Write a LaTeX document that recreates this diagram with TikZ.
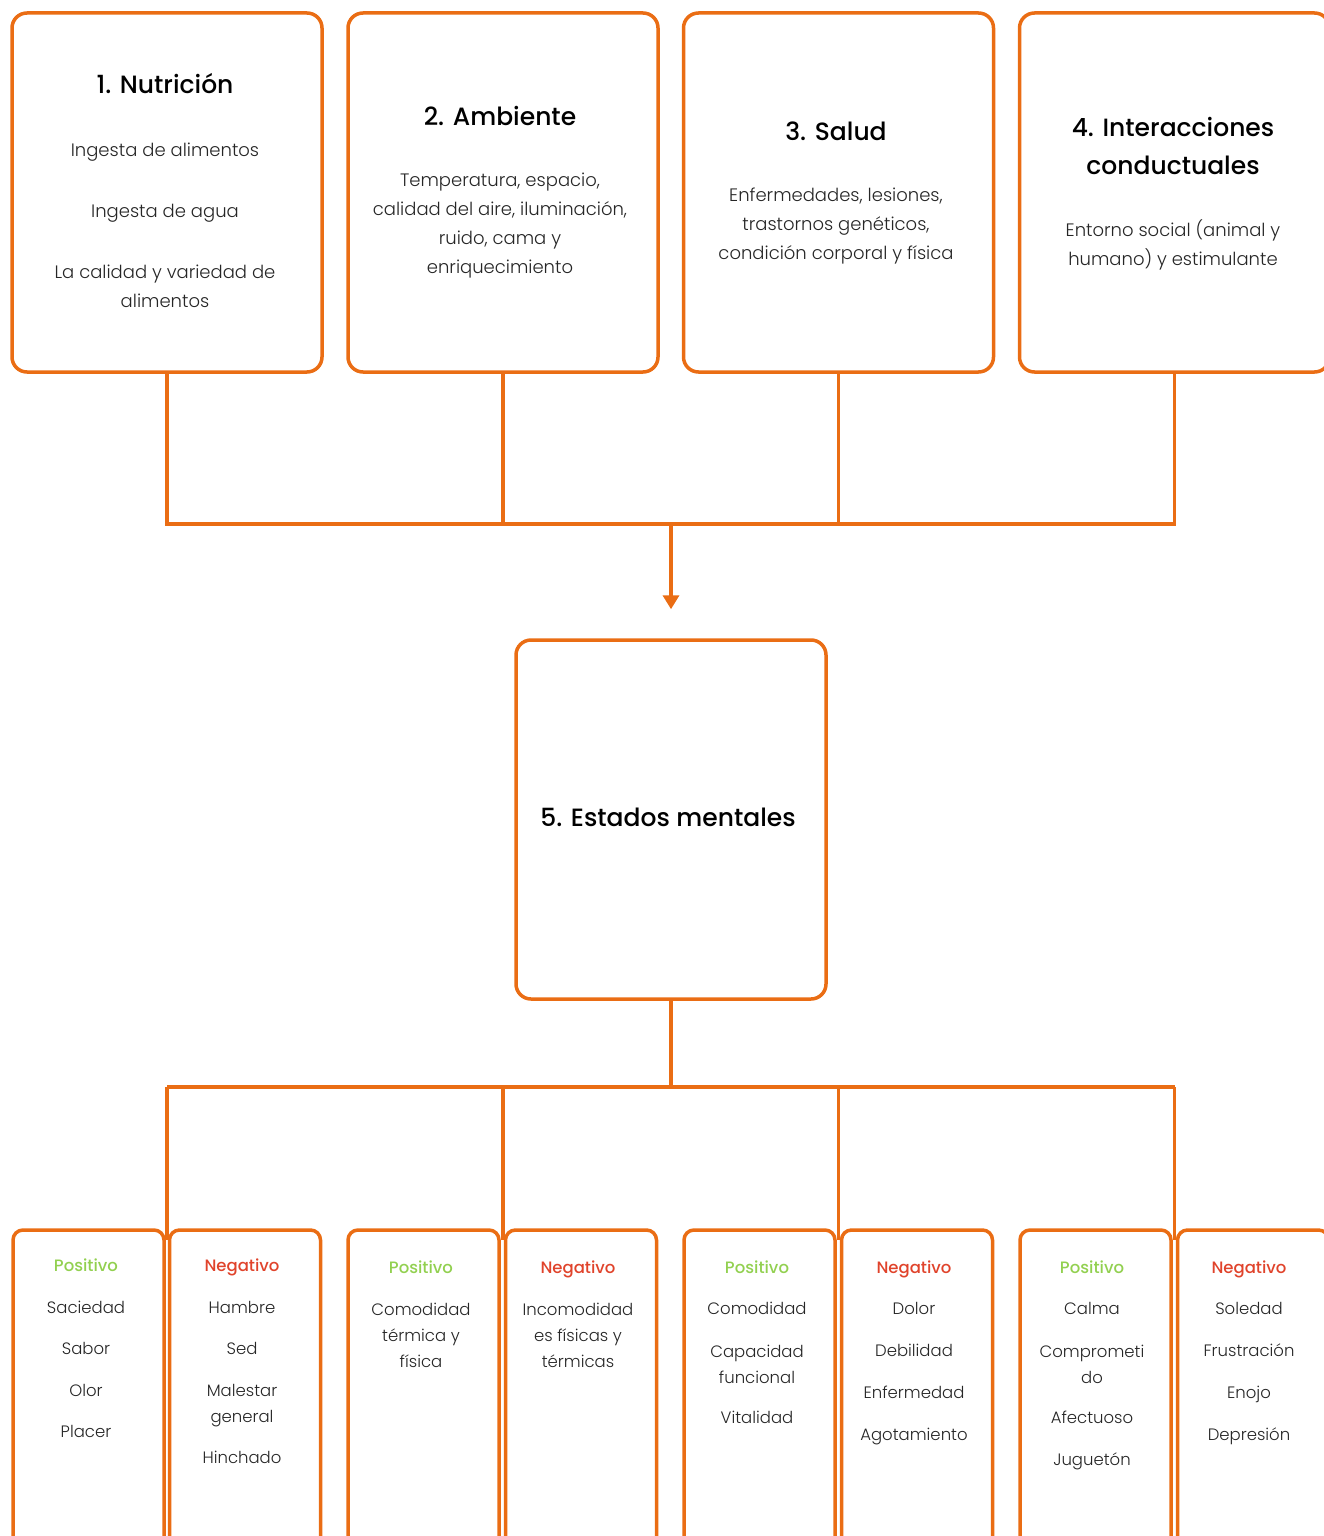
\documentclass[tikz,border=0pt]{standalone}
\usepackage{fontspec}
\setmainfont{Poppins}[UprightFont=*-Light, BoldFont=*-Medium]
\usetikzlibrary{arrows.meta}
\definecolor{naranja}{HTML}{EA6D14}
\definecolor{verde}{HTML}{92D050}
\definecolor{rojo}{HTML}{E0432B}
\definecolor{texto}{HTML}{262626}

\tikzset{
  caja/.style={draw=naranja, line width=3.5pt, rounded corners=15pt,
    minimum width=310pt, minimum height=359pt},
  cajita/.style={draw=naranja, line width=3.5pt, rounded corners=10pt,
    minimum width=151pt, minimum height=400pt},
  enlace/.style={draw=naranja, line width=3.5pt},
  titulo/.style={font=\bfseries\fontsize{25}{38}\selectfont, align=center, text=black},
  cuerpo/.style={font=\fontsize{18}{29}\selectfont, align=center, text=texto},
  item/.style={font=\fontsize{16.5}{26}\selectfont, align=center, text=texto, inner sep=0pt,
    execute at begin node=\strut, execute at end node=\strut},
  positivo/.style={item, font=\bfseries\fontsize{16.5}{26}\selectfont, text=verde},
  negativo/.style={item, font=\bfseries\fontsize{16.5}{26}\selectfont, text=rojo}
}

\begin{document}
\begin{tikzpicture}[x=1pt, y=-1pt]
  \useasboundingbox (0,0) rectangle (1324,1536);
  \clip (0,0) rectangle (1324,1536);

  % Top boxes
  \node[caja] (nut) at (167,192.5) {};
  \node[caja] (amb) at (503,192.5) {};
  \node[caja] (sal) at (838.5,192.5) {};
  \node[caja] (int) at (1174.5,192.5) {};

  \node[titulo] (tnut) at (165,84) {1. Nutrición};
  \node[titulo] (tamb) at (500,116) {2. Ambiente};
  \node[titulo] (tsal) at (836,131) {3. Salud};
  \node[titulo] (tint) at (1173,146) {4. Interacciones\\conductuales};

  \node[cuerpo] (cnut) at (165,225.5) {Ingesta de alimentos\\[32pt]Ingesta de agua\\[32pt]La calidad y variedad de\\alimentos};
  \node[cuerpo] (camb) at (500,225.5) {Temperatura, espacio,\\calidad del aire, iluminación,\\ruido, cama y\\enriquecimiento};
  \node[cuerpo] (csal) at (836,226) {Enfermedades, lesiones,\\trastornos genéticos,\\condición corporal y física};
  \node[cuerpo] (cint) at (1173,244.5) {Entorno social (animal y\\humano) y estimulante};

  % Middle box
  \node[caja] (mental) at (671,819.5) {};
  \node[titulo] (tmental) at (668,817) {5. Estados mentales};

  % Connectors to the middle box
  \coordinate (union) at (671,524);
  \draw[enlace] (nut.south) |- (union) -| (int.south);
  \draw[enlace] (amb.south) -- (amb.south |- union);
  \draw[enlace] (sal.south) -- (sal.south |- union);
  \draw[enlace, -{Triangle[width=16pt,length=14pt]}, shorten >=29pt] (union) -- (mental.north);

  % Bottom boxes
  \node[cajita] (posnut) at (88.5,1430) {};
  \node[cajita] (negnut) at (245,1430) {};
  \node[cajita] (posamb) at (423.5,1430) {};
  \node[cajita] (negamb) at (581,1430) {};
  \node[cajita] (possal) at (759.5,1430) {};
  \node[cajita] (negsal) at (917,1430) {};
  \node[cajita] (posint) at (1095.5,1430) {};
  \node[cajita] (negint) at (1253,1430) {};

  % Connectors to the bottom boxes
  \coordinate (reparto) at (669,1087);
  \draw[enlace] (mental.south) -- (mental.south |- reparto);
  \draw[enlace] (nut.south |- reparto) -- (int.south |- reparto);
  \foreach \c in {nut,amb,sal,int}
    \draw[enlace] (\c.south |- reparto) -- (\c.south |- pos\c.north) -- ++(0,12);

  % Texts of the bottom boxes
  \node[positivo] (hpnut) at (86,1266) {Positivo};
  \node[negativo] (hnnut) at (242,1266) {Negativo};
  \node[positivo] (hpamb) at (421,1268) {Positivo};
  \node[negativo] (hnamb) at (578,1268) {Negativo};
  \node[positivo] (hpsal) at (757,1268) {Positivo};
  \node[negativo] (hnsal) at (914,1268) {Negativo};
  \node[positivo] (hpint) at (1092,1268) {Positivo};
  \node[negativo] (hnint) at (1249,1268) {Negativo};

  \foreach \y/\t in {1308/Saciedad, 1349/Sabor, 1391/Olor, 1432/Placer}
    \node[item] (pnut\y) at (86,\y) {\t};
  \foreach \y/\t in {1308/Hambre, 1349/Sed, 1407.5/{Malestar\\general}, 1458/Hinchado}
    \node[item] (nnut\y) at (242,\y) {\t};
  \node[item] (pamb) at (421,1339) {Comodidad\\térmica y\\física};
  \node[item] (namb) at (578,1339) {Incomodidad\\es físicas y\\térmicas};
  \foreach \y/\t in {1309/Comodidad, 1368/{Capacidad\\funcional}, 1418/Vitalidad}
    \node[item] (psal\y) at (757,\y) {\t};
  \foreach \y/\t in {1309/Dolor, 1351/Debilidad, 1393/Enfermedad, 1435/Agotamiento}
    \node[item] (nsal\y) at (914,\y) {\t};
  \foreach \y/\t in {1309/Calma, 1368/{Comprometi\\do}, 1418/Afectuoso, 1460/Juguetón}
    \node[item] (pint\y) at (1092,\y) {\t};
  \foreach \y/\t in {1309/Soledad, 1351/Frustración, 1393/Enojo, 1435/Depresión}
    \node[item] (nint\y) at (1249,\y) {\t};
\end{tikzpicture}
\end{document}
